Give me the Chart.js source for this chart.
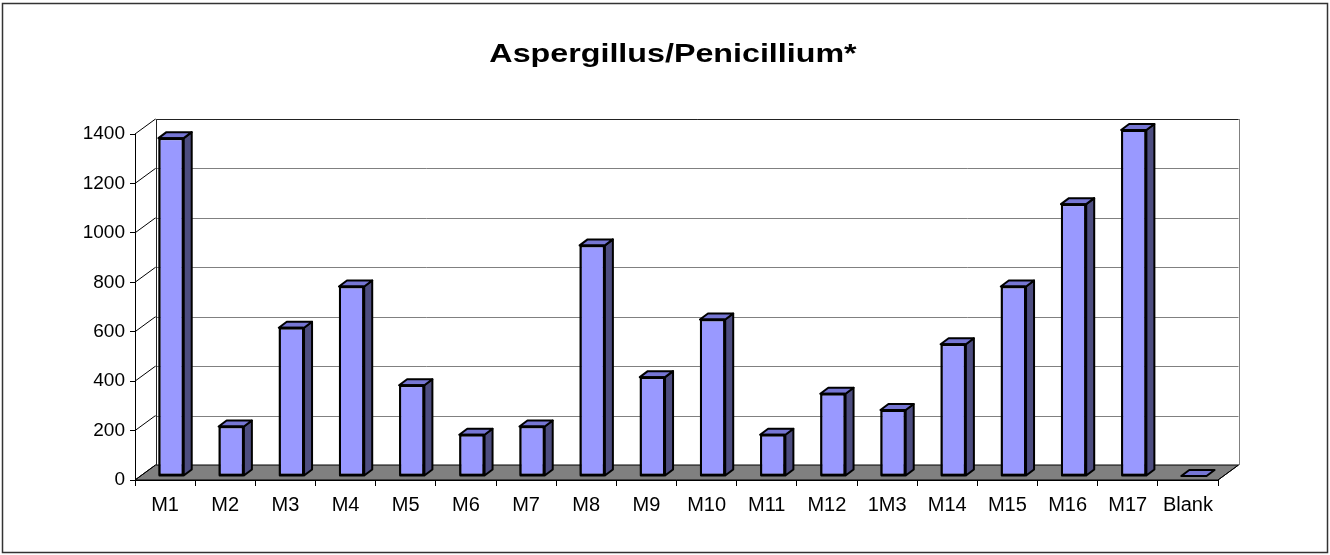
<!DOCTYPE html>
<html>
<head>
<meta charset="utf-8">
<script src="https://cdn.jsdelivr.net/npm/chart.js@4.4.1/dist/chart.umd.min.js"></script>
<style>
  html, body { margin: 0; padding: 0; background: #ffffff; }
  #c { display: block; }
</style>
</head>
<body>
<canvas id="c" width="1330" height="555"></canvas>
<script>
// Sample labels and colony counts per sample
const categories = ['M1','M2','M3','M4','M5','M6','M7','M8','M9','M10','M11','M12','1M3','M14','M15','M16','M17','Blank'];
const counts = [1367, 200, 600, 767, 367, 167, 200, 933, 400, 633, 167, 333, 267, 533, 767, 1100, 1400, 0];
const yTicks = [0, 200, 400, 600, 800, 1000, 1200, 1400];
const chartTitle = 'Aspergillus/Penicillium*';

// Oblique projection used for the pseudo-3D look
const BAR_SHIFT = { dx: 6, dy: -4 };     // column front faces sit a little inside the floor
const BAR_DEPTH = { dx: 8, dy: -6 };     // depth of each column
const WALL_DEPTH = { dx: 20.5, dy: -15 }; // depth of the floor / back wall

const COLORS = {
  front: '#9999ff',
  top: '#7676d4',
  side: '#4d4d80',
  floor: '#808080',
  grid: '#808080',
  edge: '#000000'
};

const crisp = v => Math.round(v) + 0.5;

const depthPlugin = {
  id: 'depth3d',
  afterDatasetsUpdate(chart) {
    chart.getDatasetMeta(0).data.forEach(el => {
      el.x += BAR_SHIFT.dx;
      el.y += BAR_SHIFT.dy;
      el.base += BAR_SHIFT.dy;
    });
  },
  beforeDatasetsDraw(chart) {
    const { ctx, chartArea: a, scales: { y } } = chart;
    const zeroY = y.getPixelForValue(0);
    const topY = y.getPixelForValue(yTicks[yTicks.length - 1]);
    const bl = a.left + WALL_DEPTH.dx, br = a.right + WALL_DEPTH.dx;
    ctx.save();

    // floor
    ctx.beginPath();
    ctx.moveTo(a.left, zeroY);
    ctx.lineTo(a.right, zeroY);
    ctx.lineTo(br, zeroY + WALL_DEPTH.dy);
    ctx.lineTo(bl, zeroY + WALL_DEPTH.dy);
    ctx.closePath();
    ctx.fillStyle = COLORS.floor;
    ctx.fill();
    ctx.lineWidth = 1;
    ctx.strokeStyle = COLORS.edge;
    ctx.stroke();

    // gridlines on the back wall
    ctx.strokeStyle = COLORS.grid;
    ctx.lineWidth = 1;
    yTicks.forEach(v => {
      if (v === 0) return;
      const yy = crisp(y.getPixelForValue(v) + WALL_DEPTH.dy);
      ctx.beginPath();
      ctx.moveTo(bl, yy);
      ctx.lineTo(br, yy);
      ctx.stroke();
    });

    // back wall right edge
    ctx.beginPath();
    ctx.moveTo(crisp(br), topY + WALL_DEPTH.dy);
    ctx.lineTo(crisp(br), zeroY + WALL_DEPTH.dy);
    ctx.stroke();

    // back wall top and left edges
    ctx.strokeStyle = '#222222';
    ctx.beginPath();
    ctx.moveTo(br, crisp(topY + WALL_DEPTH.dy));
    ctx.lineTo(crisp(bl), crisp(topY + WALL_DEPTH.dy));
    ctx.lineTo(crisp(bl), zeroY + WALL_DEPTH.dy);
    ctx.stroke();

    // side wall connectors from the value axis to the back wall
    ctx.strokeStyle = COLORS.edge;
    yTicks.forEach(v => {
      const yy = y.getPixelForValue(v);
      ctx.beginPath();
      ctx.moveTo(a.left, yy);
      ctx.lineTo(bl, yy + WALL_DEPTH.dy);
      ctx.stroke();
    });

    // floor right edge
    ctx.beginPath();
    ctx.moveTo(a.right, zeroY);
    ctx.lineTo(br, zeroY + WALL_DEPTH.dy);
    ctx.stroke();
    ctx.restore();
  },
  afterDatasetsDraw(chart) {
    const { ctx } = chart;
    ctx.save();
    ctx.lineWidth = 2;
    ctx.lineJoin = 'round';
    ctx.strokeStyle = COLORS.edge;
    chart.getDatasetMeta(0).data.forEach(el => {
      const { x, y, base, width } = el.getProps(['x', 'y', 'base', 'width'], true);
      const l = x - width / 2, r = x + width / 2;
      const t = Math.min(y, base), b = Math.max(y, base);
      const { dx, dy } = BAR_DEPTH;

      // right side face
      if (b - t > 0.5) {
        ctx.beginPath();
        ctx.moveTo(r, t);
        ctx.lineTo(r + dx, t + dy);
        ctx.lineTo(r + dx, b + dy);
        ctx.lineTo(r, b);
        ctx.closePath();
        ctx.fillStyle = COLORS.side;
        ctx.fill();
        ctx.stroke();
      }

      // top face
      ctx.beginPath();
      ctx.moveTo(l, t);
      ctx.lineTo(l + dx, t + dy);
      ctx.lineTo(r + dx, t + dy);
      ctx.lineTo(r, t);
      ctx.closePath();
      ctx.fillStyle = COLORS.top;
      ctx.fill();
      ctx.stroke();

      // front outline
      if (b - t > 0.5) {
        ctx.strokeRect(l + 1, t, width - 2, b - t);
      }
    });
    ctx.restore();
  },
  afterDraw(chart) {
    const { ctx } = chart;
    ctx.save();
    // chart title, set wide as in the sheet it comes from
    ctx.translate(673, 62);
    ctx.scale(1.24, 1);
    ctx.font = 'bold 26px "Liberation Sans", Arial, sans-serif';
    ctx.fillStyle = '#000000';
    ctx.textAlign = 'center';
    ctx.textBaseline = 'alphabetic';
    ctx.fillText(chartTitle, 0, 0);
    ctx.restore();

    // outer frame
    ctx.save();
    ctx.strokeStyle = '#333333';
    ctx.lineWidth = 1.5;
    ctx.strokeRect(2.5, 3.5, 1325, 549);
    ctx.restore();
  }
};

new Chart(document.getElementById('c'), {
  type: 'bar',
  data: {
    labels: categories,
    datasets: [{
      label: chartTitle,
      data: counts,
      backgroundColor: COLORS.front,
      borderColor: COLORS.edge,
      borderWidth: 2,
      borderSkipped: false,
      categoryPercentage: 1.0,
      barPercentage: 0.42,
      clip: false
    }]
  },
  options: {
    responsive: false,
    devicePixelRatio: 1,
    animation: false,
    layout: { padding: { top: 134, right: 112, bottom: 0, left: 0 } },
    plugins: {
      legend: { display: false },
      title: { display: false },
      tooltip: { enabled: false }
    },
    scales: {
      x: {
        offset: true,
        grid: { display: true, offset: true, drawOnChartArea: false, drawTicks: true, tickLength: 6, color: '#000000' },
        border: { display: true, color: '#000000', width: 1 },
        ticks: {
          autoSkip: false,
          maxRotation: 0,
          padding: 7,
          color: '#000000',
          font: { family: '"Liberation Sans", Arial, sans-serif', size: 20 }
        },
        afterFit(scale) { scale.height = 75; }
      },
      y: {
        min: 0,
        max: 1400,
        afterBuildTicks(scale) { scale.ticks = yTicks.map(v => ({ value: v })); },
        grid: { display: true, drawOnChartArea: false, drawTicks: true, tickLength: 5, color: '#000000' },
        border: { display: true, color: '#000000', width: 1 },
        ticks: {
          padding: 5,
          color: '#000000',
          font: { family: '"Liberation Sans", Arial, sans-serif', size: 19 },
          callback: v => String(v)
        },
        afterFit(scale) { scale.width = 135; }
      }
    }
  },
  plugins: [depthPlugin]
});
</script>
</body>
</html>
